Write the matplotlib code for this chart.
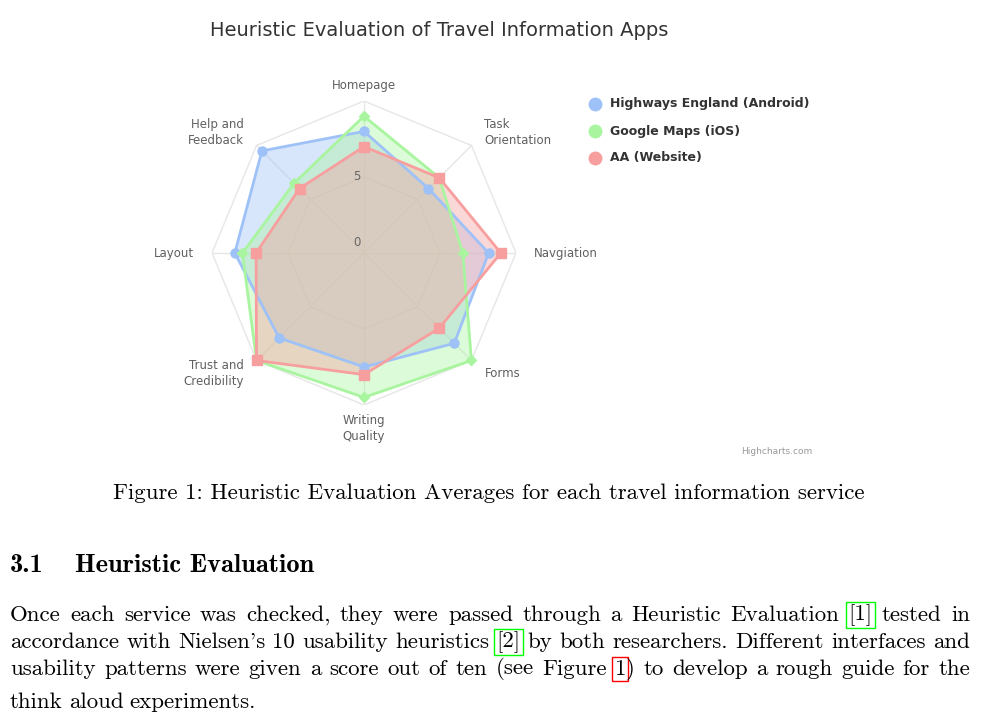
import numpy as np
import matplotlib
matplotlib.use("Agg")
import matplotlib.pyplot as plt

categories = ["Homepage", "Task\nOrientation", "Navgiation", "Forms",
              "Writing\nQuality", "Trust and\nCredibility", "Layout", "Help and\nFeedback"]
highways = [8, 6, 8.2, 8.4, 7.5, 7.9, 8.5, 9.5]
google = [9, 7, 6.5, 10, 9.5, 10, 8, 6.5]
aa = [7, 7, 9, 7, 8, 10, 7.1, 6]
series = [("Highways England (Android)", highways, "#9ec2f7", "o"),
          ("Google Maps (iOS)", google, "#a9f59f", "D"),
          ("AA (Website)", aa, "#f79f9f", "s")]

W, H = 998, 720
fig = plt.figure(figsize=(W / 100, H / 100), dpi=100)
fig.patch.set_facecolor("white")

# radar drawn in a cartesian axes, centre at (364, 253) px, radius 152 px
cx, cy, R = 364, 253, 152
ax = fig.add_axes([(cx - R) / W, (H - cy - R) / H, 2 * R / W, 2 * R / H])
ax.set_xlim(-10, 10)
ax.set_ylim(-10, 10)
ax.axis("off")

n = len(categories)
ang = np.arange(n) * 2 * np.pi / n
sx, sy = np.sin(ang), np.cos(ang)

for ring in [5, 10]:
    ax.plot(np.append(sx, sx[0]) * ring, np.append(sy, sy[0]) * ring, color="#e6e6e6", lw=1, zorder=1)
for i in range(n):
    ax.plot([0, sx[i] * 10], [0, sy[i] * 10], color="#e6e6e6", lw=1, zorder=1)
ax.text(-0.25, 5, "5", ha="right", va="center", fontsize=8.5, color="#666666", zorder=5)
ax.text(-0.25, 0.25, "0", ha="right", va="bottom", fontsize=8.5, color="#666666", zorder=5)

for name, vals, col, mk in series:
    v = np.array(vals)
    px, py = v * sx, v * sy
    ax.fill(np.append(px, px[0]), np.append(py, py[0]), color=col, alpha=0.4, lw=0, zorder=2)
    ax.plot(np.append(px, px[0]), np.append(py, py[0]), color=col, lw=2, zorder=3)
    ax.plot(px, py, ls="none", marker=mk, ms=6.5 if mk != "D" else 5.5, color=col, mec=col, zorder=4, clip_on=False)

for i, lab in enumerate(categories):
    r = 11.2
    x, y = sx[i] * r, sy[i] * r
    ha = "center" if abs(sx[i]) < 0.1 else ("left" if sx[i] > 0 else "right")
    va = "center"
    if abs(sx[i]) < 0.1:
        va = "bottom" if sy[i] > 0 else "top"
        y = sy[i] * 10.6
    ax.text(x, y, lab, ha=ha, va=va, fontsize=8.5, color="#606060", linespacing=1.25, clip_on=False)

fig.text(439 / W, 1 - 31 / H, "Heuristic Evaluation of Travel Information Apps",
         ha="center", va="center", fontsize=14, color="#333333")
for k, (name, vals, col, mk) in enumerate(series):
    yy = 1 - (104 + 27 * k) / H
    fig.lines.append(plt.Line2D([595 / W], [yy], transform=fig.transFigure, marker="o", ms=9,
                                color=col, ls="none"))
    fig.text(610 / W, yy, name, ha="left", va="center", fontsize=9, fontweight="bold", color="#333333")
fig.text(777 / W, 1 - 451 / H, "Highcharts.com", ha="center", va="center", fontsize=6.5, color="#999999")

# document text below the chart
serif = "cmr10"
fs = 16.5
fig.text(489 / W, 1 - 493 / H, "Figure 1: Heuristic Evaluation Averages for each travel information service",
         ha="center", va="center", fontsize=fs, family=serif)
fig.text(10 / W, 1 - 566 / H, "3.1", ha="left", va="center", fontsize=19, family="cmb10")
fig.text(75 / W, 1 - 566 / H, "Heuristic Evaluation", ha="left", va="center", fontsize=19, family="cmb10")

para = [
    ("Once each service was checked, they were passed through a Heuristic Evaluation [1]| tested in", True),
    ("accordance with Nielsen's 10 usability heuristics [2]| by both researchers. Different interfaces and", True),
    ("usability patterns were given a score out of ten (see Figure  1|) to develop a rough guide for the", True),
    ("think aloud experiments.", False),
]
boxcol = {"[1]": "#00ff00", "[2]": "#00ff00", "1": "#ff0000"}
line_y = [615, 642, 669, 702]
renderer = fig.canvas.get_renderer()
x0, x1 = 10, 970
for (line, just), ly in zip(para, line_y):
    texts = []
    widths = []
    for w in line.split():
        segs = []
        if "|" in w:
            main, rest = w.split("|")
            segs.append((main, True))
            if rest:
                segs.append((rest, False))
        else:
            segs.append((w, False))
        group = []
        total = 0
        for s, boxed in segs:
            t = fig.text(0, 1 - ly / H, s, ha="left", va="center", fontsize=fs, family=serif)
            if boxed:
                t.set_bbox(dict(boxstyle="square,pad=0.1", fc="none", ec=boxcol[s], lw=1))
            wpx = t.get_window_extent(renderer).width
            group.append((t, wpx))
            total += wpx
        texts.append(group)
        widths.append(total)
    space = 6
    if just and len(widths) > 1:
        space = (x1 - x0 - sum(widths)) / (len(widths) - 1)
    x = x0
    for group, wsum in zip(texts, widths):
        xx = x
        for t, wpx in group:
            t.set_x(xx / W)
            xx += wpx
        x += wsum + space

fig.savefig("out.png", dpi=100, facecolor="white")
